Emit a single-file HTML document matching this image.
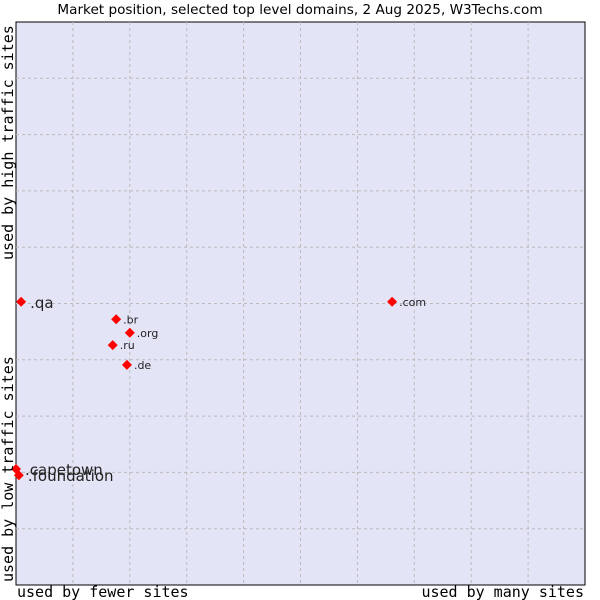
<!DOCTYPE html>
<html><head><meta charset="utf-8"><style>
body{margin:0;background:#fff;}
svg{display:block;font-family:"DejaVu Sans","Liberation Sans",sans-serif;}
</style></head><body>
<svg id="c" width="600" height="600">
<text x="300" y="14" text-anchor="middle" font-size="13.6" fill="#000">Market position, selected top level domains, 2 Aug 2025, W3Techs.com</text>
<rect x="16" y="22" width="569" height="563" fill="#e3e5f7" stroke="#000" stroke-width="1"/>
<g id="grid"></g>
<g id="pts"></g>
<text x="17" y="597" font-family="DejaVu Sans Mono,Liberation Mono,monospace" font-size="15">used by fewer sites</text>
<text x="584" y="597" text-anchor="end" font-family="DejaVu Sans Mono,Liberation Mono,monospace" font-size="15">used by many sites</text>
<text transform="translate(13,582) rotate(-90)" font-family="DejaVu Sans Mono,Liberation Mono,monospace" font-size="15">used by low traffic sites</text>
<text transform="translate(13,260) rotate(-90)" font-family="DejaVu Sans Mono,Liberation Mono,monospace" font-size="15">used by high traffic sites</text>
</svg>
<script>
const domains=[".qa",".com",".br",".org",".ru",".de",".capetown",".foundation"];
const usage=[0.9,66.1,17.6,20.0,17.0,19.5,0,0.5];
const traffic=[50.3,50.3,47.2,44.8,42.6,39.1,20.6,19.5];
const bigLabel=[true,false,false,false,false,false,true,true];
const X0=16,X1=585,Y0=585,Y1=22;
const sx=v=>X0+v/100*(X1-X0);
const sy=v=>Y0-v/100*(Y0-Y1);
const NS="http://www.w3.org/2000/svg";
const g=document.getElementById('grid');
for(let i=1;i<10;i++){
  const l=document.createElementNS(NS,'line');
  
  
  const x=sx(i*10);l.setAttribute('x1',x);l.setAttribute('x2',x);l.setAttribute('y1',Y1);l.setAttribute('y2',Y0);
  l.setAttribute('stroke','#bbb');l.setAttribute('stroke-dasharray','3,3');g.appendChild(l);
  const h=document.createElementNS(NS,'line');
  
  
  const y=sy(i*10);h.setAttribute('x1',X0);h.setAttribute('x2',X1);h.setAttribute('y1',y);h.setAttribute('y2',y);
  h.setAttribute('stroke','#bbb');h.setAttribute('stroke-dasharray','3,3');g.appendChild(h);
}
const p=document.getElementById('pts');
domains.forEach((d,i)=>{
  const x=sx(usage[i]),y=sy(traffic[i]);
  const m=document.createElementNS(NS,'path');
  
  
  m.setAttribute('d',`M${x} ${y-5}L${x+5} ${y}L${x} ${y+5}L${x-5} ${y}Z`);
  m.setAttribute('fill','#f00');p.appendChild(m);
  const t=document.createElementNS(NS,'text');
  
  
  t.setAttribute('x',x+(bigLabel[i]?9:7));t.setAttribute('y',y+(bigLabel[i]?6:4));
  t.setAttribute('font-size',bigLabel[i]?15:11);t.setAttribute('fill','#222');
  t.textContent=d;p.appendChild(t);
});
</script>
</body></html>
